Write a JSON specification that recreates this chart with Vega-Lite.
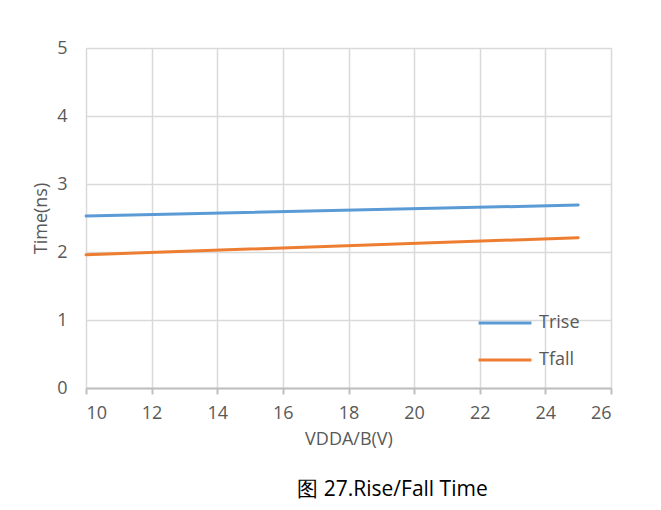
{
  "$schema": "https://vega.github.io/schema/vega-lite/v6.json",
  "width": 525,
  "height": 340,
  "autosize": "none",
  "padding": {"left": 86, "top": 48, "right": 50, "bottom": 122},
  "background": "white",
  "title": {
    "text": "图 27.Rise/Fall Time",
    "orient": "bottom",
    "anchor": "middle",
    "offset": 31,
    "dx": 44,
    "font": "Open Sans",
    "fontSize": 21,
    "fontWeight": "normal",
    "color": "#000000"
  },
  "data": {
    "values": [
      {"v": 10, "t": 2.53, "s": "Trise"},
      {"v": 25, "t": 2.69, "s": "Trise"},
      {"v": 10, "t": 1.96, "s": "Tfall"},
      {"v": 25, "t": 2.21, "s": "Tfall"}
    ]
  },
  "mark": {"type": "line", "strokeWidth": 3, "strokeCap": "round"},
  "encoding": {
    "x": {
      "field": "v", "type": "quantitative",
      "scale": {"domain": [10, 26], "nice": false},
      "axis": {
        "title": "VDDA/B(V)", "values": [10, 12, 14, 16, 18, 20, 22, 24, 26],
        "titleFont": "Open Sans", "titleFontSize": 18, "titleFontWeight": "normal", "titleColor": "#595959", "titlePadding": 8,
        "labelFont": "Open Sans", "labelFontSize": 18, "labelColor": "#595959", "labelPadding": 10,
        "domainColor": "#bfbfbf", "domainWidth": 2, "tickColor": "#bfbfbf", "tickWidth": 2, "tickSize": 6,
        "gridColor": "#d9d9d9", "gridWidth": 1.5
      }
    },
    "y": {
      "field": "t", "type": "quantitative",
      "scale": {"domain": [0, 5], "nice": false},
      "axis": {
        "title": "Time(ns)", "values": [0, 1, 2, 3, 4, 5],
        "titleFont": "Open Sans", "titleFontSize": 18, "titleFontWeight": "normal", "titleColor": "#595959", "titlePadding": 6,
        "labelFont": "Open Sans", "labelFontSize": 18, "labelColor": "#595959", "labelPadding": 19,
        "domain": false, "ticks": false,
        "gridColor": "#d9d9d9", "gridWidth": 1.5
      }
    },
    "color": {
      "field": "s", "type": "nominal",
      "scale": {"domain": ["Trise", "Tfall"], "range": ["#5b9bd5", "#ed7d31"]},
      "legend": {
        "title": null, "orient": "none", "legendX": 391, "legendY": 247,
        "symbolType": "stroke", "symbolSize": 2800, "symbolStrokeWidth": 3,
        "labelFont": "Open Sans", "labelFontSize": 18, "labelColor": "#595959",
        "rowPadding": -15, "labelOffset": 6
      }
    }
  },
  "config": {"view": {"stroke": "#d9d9d9"}}
}
